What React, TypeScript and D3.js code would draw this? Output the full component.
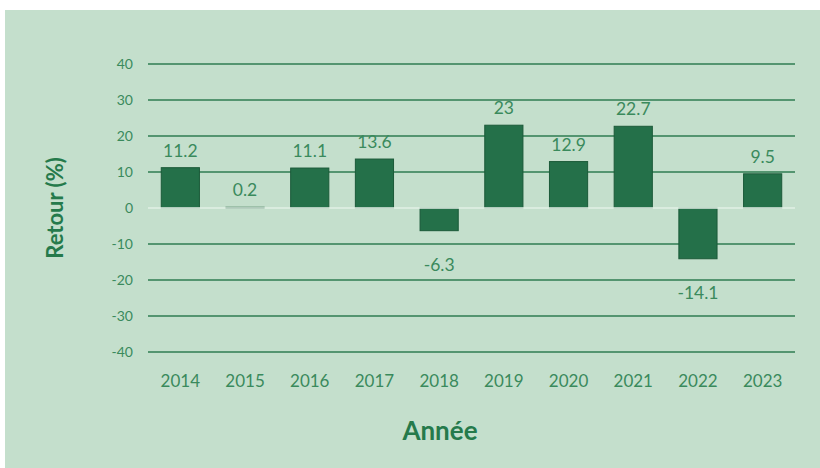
import React from "react";
import * as d3 from "d3";

const years = ["2014", "2015", "2016", "2017", "2018", "2019", "2020", "2021", "2022", "2023"];
const returns = [11.2, 0.2, 11.1, 13.6, -6.3, 23, 12.9, 22.7, -14.1, 9.5];
const yTicks = [-40, -30, -20, -10, 0, 10, 20, 30, 40];
const labelTexts = ["11.2", "0.2", "11.1", "13.6", "-6.3", "23", "12.9", "22.7", "-14.1", "9.5"];

const W = 820;
const H = 468;
const FONT = "Lato, 'Open Sans', 'Noto Sans', sans-serif";

export default function App() {
  React.useEffect(() => {
    document.body.style.margin = "0";
  }, []);

  const x = d3.scaleBand<string>().domain(years).range([148, 795]).paddingInner(0.41).paddingOuter(0.205);
  const y = d3.scaleLinear().domain([-40, 40]).range([352, 64]);

  return (
    <svg width={W} height={H} style={{ display: "block" }}>
      <rect x={5} y={10} width={W - 5} height={H - 10} fill="#c4dfcc" />
      {yTicks.filter((t) => t !== 0).map((t) => (
        <line key={t} x1={148} x2={795} y1={y(t)} y2={y(t)} stroke="#2f7d52" strokeWidth={1.6} />
      ))}
      {yTicks.map((t) => (
        <text key={"t" + t} x={133} y={y(t)} dy="0.35em" textAnchor="end" fontFamily={FONT} fontSize={14} fill="#3a8a5c">
          {t}
        </text>
      ))}
      {years.map((yr, i) => {
        const v = returns[i];
        const y0 = y(0);
        const y1 = y(v);
        return (
          <rect
            key={yr}
            x={x(yr)}
            y={Math.min(y0, y1)}
            width={x.bandwidth()}
            height={Math.max(Math.abs(y1 - y0), 1)}
            fill="#247049"
            stroke="#1b5a39"
            strokeWidth={1}
          />
        );
      })}
      <line x1={148} x2={795} y1={y(0)} y2={y(0)} stroke="#e2f0e6" strokeWidth={1.6} />
      {years.map((yr, i) => {
        const v = returns[i];
        const cx = (x(yr) as number) + x.bandwidth() / 2;
        const ly = v >= 0 ? y(v) - 11 : y(v) + 40;
        return (
          <text key={"l" + yr} x={cx} y={ly} textAnchor="middle" fontFamily={FONT} fontSize={17.5} fill="#3a8a5c">
            {labelTexts[i]}
          </text>
        );
      })}
      {years.map((yr) => (
        <text
          key={"x" + yr}
          x={(x(yr) as number) + x.bandwidth() / 2}
          y={387}
          textAnchor="middle"
          fontFamily={FONT}
          fontSize={17}
          fill="#3a8a5c"
        >
          {yr}
        </text>
      ))}
      <text x={440} y={440} textAnchor="middle" fontFamily={FONT} fontSize={26} fontWeight="bold" fill="#257a4b">
        Année
      </text>
      <text
        transform={`translate(63,208) rotate(-90)`}
        textAnchor="middle"
        fontFamily={FONT}
        fontSize={22}
        fontWeight="bold"
        fill="#257a4b"
      >
        Retour (%)
      </text>
    </svg>
  );
}
